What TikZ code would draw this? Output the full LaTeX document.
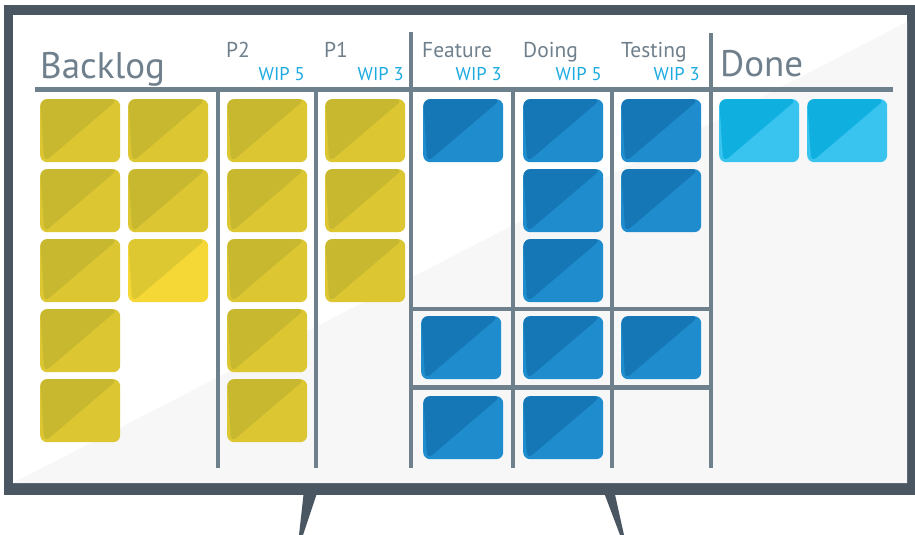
\documentclass[tikz,border=0pt]{standalone}
\usepackage{fontspec}
\setmainfont{PT Sans}
\definecolor{framec}{HTML}{4A5661}
\definecolor{gridc}{HTML}{6E808C}
\definecolor{hdrc}{HTML}{6F808C}
\definecolor{wipc}{HTML}{1DAAE0}
\definecolor{ydark}{HTML}{C8B830}
\definecolor{ylight}{HTML}{DCC732}
\definecolor{brdark}{HTML}{DDC832}
\definecolor{brlight}{HTML}{F5D736}
\definecolor{bldark}{HTML}{1677B6}
\definecolor{bllight}{HTML}{1F8DCD}
\definecolor{cydark}{HTML}{0FAFE0}
\definecolor{cylight}{HTML}{38C4EF}
\definecolor{shadec}{HTML}{F7F7F8}
\tikzset{
  cardbox/.style 2 args={rectangle, rounded corners=7pt, inner sep=0pt,
    minimum width=80pt, minimum height=63pt, anchor=north west, fill=#2,
    path picture={\fill[#1] (path picture bounding box.north west) --
      ([xshift=-2pt]path picture bounding box.north east) --
      ([xshift=4pt]path picture bounding box.south west) -- cycle;}},
  ycard/.style={cardbox={ydark}{ylight}},
  brcard/.style={cardbox={brdark}{brlight}},
  blcard/.style={cardbox={bldark}{bllight}},
  cycard/.style={cardbox={cydark}{cylight}},
  gridline/.style={draw=gridc, line width=4.5pt},
  bigtitle/.style={text=hdrc, inner sep=0pt, anchor=base west, font=\fontsize{37}{37}\selectfont},
  coltitle/.style={text=hdrc, inner sep=0pt, anchor=base west, font=\fontsize{21.5}{21.5}\selectfont},
  wiplabel/.style={text=wipc, inner sep=0pt, anchor=base east, font=\fontsize{18.5}{18.5}\selectfont},
}
\begin{document}
\begin{tikzpicture}[x=1pt,y=-1pt]
\useasboundingbox (0,0) rectangle (915,535);
% stand legs
\fill[framec] (304,490) -- (318,490) -- (303,535) -- (299,535) -- cycle;
\fill[framec] (603,490) -- (614,490) -- (624,535) -- (620,535) -- cycle;
% frame
\fill[framec] (4,5) rectangle (915,495);
\fill[white] (13,15) rectangle (907,483);
\fill[shadec] (13,483) -- (907,22) -- (907,483) -- cycle;
% grid lines
\draw[gridline] (35,89.5) -- (893,89.5);
\draw[gridline] (218,89.5) -- (218,468);
\draw[gridline] (316,89.5) -- (316,468);
\draw[gridline] (411,32) -- (411,468);
\draw[gridline] (513,89.5) -- (513,468);
\draw[gridline] (612,89.5) -- (612,468);
\draw[gridline] (711,33) -- (711,468);
\draw[gridline] (411,309) -- (711,309);
\draw[gridline] (413,387.5) -- (711,387.5);
% titles
\node[bigtitle] (tbacklog) at (40,78) {Backlog};
\node[bigtitle] (tdone) at (720,77) {Done};
\node[coltitle] (tp2) at (226,58) {P2};
\node[coltitle] (tp1) at (324,58) {P1};
\node[coltitle] (tfeature) at (422,58) {Feature};
\node[coltitle] (tdoing) at (523,58) {Doing};
\node[coltitle] (ttesting) at (621,58) {Testing};
\node[wiplabel] (wp2) at (305,81) {WIP 5};
\node[wiplabel] (wp1) at (404,81) {WIP 3};
\node[wiplabel] (wfeature) at (502,81) {WIP 3};
\node[wiplabel] (wdoing) at (602,81) {WIP 5};
\node[wiplabel] (wtesting) at (700,81) {WIP 3};
% backlog cards
\foreach \r/\y in {1/99,2/169,3/239,4/309,5/379}{
  \node[ycard] (bla\r) at (40,\y) {};
  \node[ycard] (p2\r) at (227,\y) {};
}
\node[ycard] (blb1) at (128,99) {};
\node[ycard] (blb2) at (128,169) {};
\node[brcard] (blb3) at (128,239) {};
\foreach \r/\y in {1/99,2/169,3/239}{
  \node[ycard] (p1\r) at (325,\y) {};
  \node[blcard] (do\r) at (523,\y) {};
}
\node[blcard] (fe1) at (423,99) {};
\node[blcard] (fe4) at (421,316) {};
\node[blcard] (fe5) at (423,396) {};
\node[blcard] (do4) at (523,316) {};
\node[blcard] (do5) at (523,396) {};
\node[blcard] (te1) at (621,99) {};
\node[blcard] (te2) at (621,169) {};
\node[blcard] (te4) at (621,316) {};
\node[cycard] (dn1) at (719,99) {};
\node[cycard] (dn2) at (807,99) {};
\end{tikzpicture}
\end{document}
